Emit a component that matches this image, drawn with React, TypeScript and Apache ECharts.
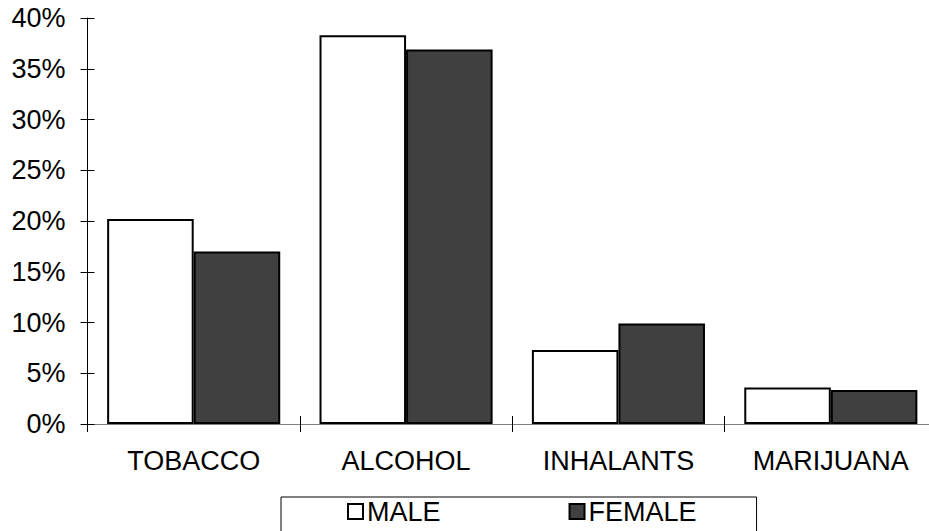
import React, { useEffect, useRef } from "react";
import * as echarts from "echarts";

const categories = ["TOBACCO", "ALCOHOL", "INHALANTS", "MARIJUANA"];
const maleValues = [20.2, 38.3, 7.3, 3.6];
const femaleValues = [17.0, 36.9, 9.9, 3.35];
const seriesNames = ["MALE", "FEMALE"];

const FONT = "'Liberation Sans', Arial, sans-serif";
const FS = 27;

export default function App() {
  const ref = useRef<HTMLDivElement>(null);
  useEffect(() => {
    if (!ref.current) return;
    const chart = echarts.init(ref.current, null, { renderer: "svg" });
    const yBase = {
      type: "value" as const,
      min: 0,
      max: 40,
      interval: 5,
      splitLine: { show: false },
    };
    chart.setOption({
      animation: false,
      backgroundColor: "#ffffff",
      textStyle: { fontFamily: FONT, color: "#000" },
      grid: { left: 87.5, right: 0, top: 18, bottom: 107, containLabel: false },
      legend: {
        left: 281,
        top: 497,
        orient: "horizontal",
        padding: [1, 60, 30, 66],
        borderColor: "#000",
        borderWidth: 1,
        itemWidth: 15,
        itemHeight: 15,
        itemGap: 128,
        icon: "rect",
        textStyle: { fontFamily: FONT, fontSize: FS, color: "#000", padding: [0, 0, 0, -1] },
        data: [
          { name: seriesNames[0], itemStyle: { color: "#ffffff", borderColor: "#000", borderWidth: 2 } },
          { name: seriesNames[1], itemStyle: { color: "#404040", borderColor: "#000", borderWidth: 2 } },
        ],
      },
      xAxis: [
        {
          type: "category",
          data: categories,
          position: "bottom",
          axisLine: { show: true, lineStyle: { color: "#808080", width: 1 } },
          axisTick: { show: true, length: 8, lineStyle: { color: "#000", width: 1 } },
          axisLabel: { fontFamily: FONT, fontSize: FS, color: "#000", margin: 23 },
        },
        {
          type: "category",
          data: categories,
          position: "bottom",
          axisLine: { show: false },
          axisTick: { show: true, inside: true, length: 8, lineStyle: { color: "#000", width: 1 } },
          axisLabel: { show: false },
        },
      ],
      yAxis: [
        {
          ...yBase,
          position: "left",
          axisLine: { show: true, lineStyle: { color: "#000", width: 1 } },
          axisTick: { show: true, length: 7, lineStyle: { color: "#000", width: 1 } },
          axisLabel: { fontFamily: FONT, fontSize: FS, color: "#000", margin: 22, formatter: "{value}%" },
        },
        {
          ...yBase,
          position: "left",
          axisLine: { show: false },
          axisTick: { show: true, inside: true, length: 7, lineStyle: { color: "#000", width: 1 } },
          axisLabel: { show: false },
        },
      ],
      series: [
        {
          name: seriesNames[0],
          type: "bar",
          data: maleValues,
          barGap: "0%",
          barCategoryGap: "18.5%",
          itemStyle: { color: "#ffffff", borderColor: "#000", borderWidth: 2 },
        },
        {
          name: seriesNames[1],
          type: "bar",
          data: femaleValues,
          barGap: "0%",
          barCategoryGap: "18.5%",
          itemStyle: { color: "#404040", borderColor: "#000", borderWidth: 2 },
        },
      ],
    });
    return () => chart.dispose();
  }, []);
  return (
    <div
      style={{ position: "fixed", left: 0, top: 0, width: 929, height: 531, overflow: "hidden", background: "#fff" }}
    >
      <div ref={ref} style={{ position: "absolute", left: 0, top: 0, width: 937, height: 531 }} />
    </div>
  );
}
